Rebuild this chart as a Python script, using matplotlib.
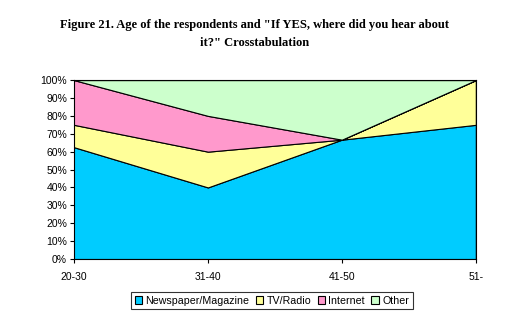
import numpy as np
import matplotlib.pyplot as plt

ages = ["20-30", "31-40", "41-50", "51-"]
newspaper = [62.5, 40.0, 66.7, 75.0]
tv_radio = [12.5, 20.0, 0.0, 25.0]
internet = [25.0, 20.0, 0.0, 0.0]
other = [0.0, 20.0, 33.3, 0.0]

labels = ["Newspaper/Magazine", "TV/Radio", "Internet", "Other"]
colors = ["#00CCFF", "#FFFF99", "#FF99CC", "#CCFFCC"]

fig = plt.figure(figsize=(5.1, 3.31), dpi=100)
ax = fig.add_axes([0.145, 0.2175, 0.788, 0.5405])

x = np.arange(len(ages))
series = [newspaper, tv_radio, internet, other]
base = np.zeros(len(ages))
for vals, lab, col in zip(series, labels, colors):
    top = base + np.array(vals)
    ax.fill_between(x, base, top, facecolor=col, edgecolor="black", linewidth=0.8, label=lab)
    base = top

ax.set_xlim(0, len(ages) - 1)
ax.set_ylim(0, 100)
ax.set_yticks(np.arange(0, 101, 10))
ax.set_yticklabels(["%d%%" % v for v in range(0, 101, 10)])
ax.set_xticks(x)
ax.set_xticklabels(ages)
for lbl in ax.get_xticklabels() + ax.get_yticklabels():
    lbl.set_family("Liberation Sans")
    lbl.set_fontsize(7.5)
ax.tick_params(axis="y", length=3, width=0.8, pad=2)
ax.tick_params(axis="x", length=3, width=0.8, pad=6)
for s in ax.spines.values():
    s.set_linewidth(0.8)

fig.text(0.5, 0.897, "Figure 21. Age of the respondents and \"If YES, where did you hear about\nit?\" Crosstabulation",
         ha="center", va="center", family="Liberation Serif", fontweight="bold", fontsize=9, linespacing=1.6)

leg = fig.legend(loc="center", bbox_to_anchor=(0.533, 0.092), ncol=4, frameon=True, fancybox=False,
                 prop={"family": "Liberation Sans", "size": 7.7}, handlelength=0.7, handleheight=0.7,
                 handletextpad=0.3, columnspacing=0.6, borderpad=0.35)
leg.get_frame().set_edgecolor("black")
leg.get_frame().set_linewidth(0.8)

fig.savefig("out.png", dpi=100)
